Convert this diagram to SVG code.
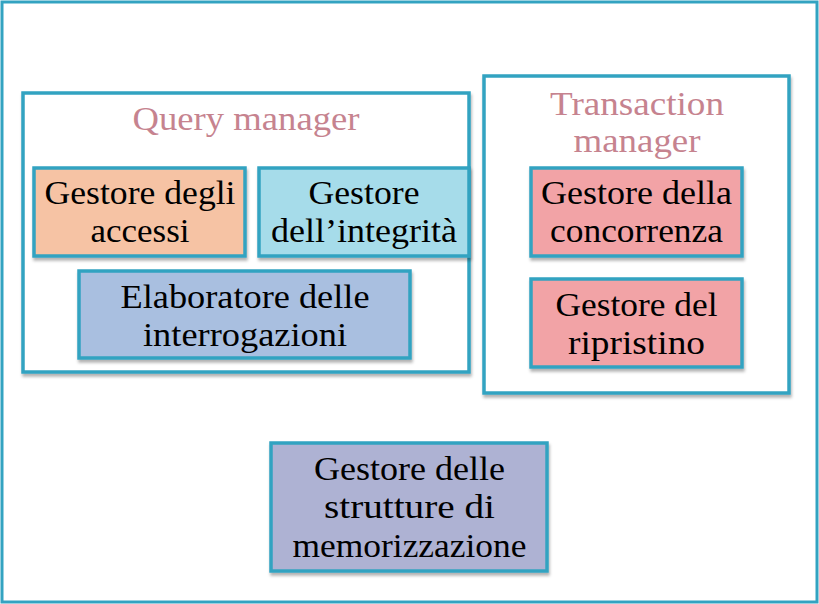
<svg xmlns="http://www.w3.org/2000/svg" width="819" height="604" viewBox="0 0 819 604">
<defs>
<style>
.frame{fill:#ffffff;stroke:#33a3c1;stroke-width:3}
.box{stroke:#33a3c1;stroke-width:3.5;filter:url(#sh)}
.t{font-family:"Liberation Serif","Times New Roman",serif;font-size:34px;fill:#000;text-anchor:middle}
.title{font-family:"Liberation Serif","Times New Roman",serif;font-size:34px;fill:#c6838f;text-anchor:middle}
</style>
<filter id="sh" x="-10%" y="-10%" width="120%" height="130%">
<feDropShadow dx="1" dy="3" stdDeviation="1.5" flood-color="#000" flood-opacity="0.3"/>
</filter>
</defs>
<rect width="819" height="604" fill="#ffffff"/>
<rect id="outer" class="frame" x="2" y="2" width="815" height="600"/>
<g id="query-manager">
<rect class="frame box" x="23" y="93" width="446" height="279"/>
<text class="title" x="246" y="130" textLength="227" lengthAdjust="spacingAndGlyphs">Query manager</text>
</g>
<g id="gestore-accessi">
<rect class="box" fill="#f6c3a4" x="34" y="168" width="211" height="88"/>
<text class="t" x="140" y="204" textLength="191" lengthAdjust="spacingAndGlyphs">Gestore degli</text>
<text class="t" x="140" y="242" textLength="99" lengthAdjust="spacingAndGlyphs">accessi</text>
</g>
<g id="gestore-integrita">
<rect class="box" fill="#a6dcea" x="259" y="168" width="210" height="88"/>
<text class="t" x="364" y="204" textLength="111" lengthAdjust="spacingAndGlyphs">Gestore</text>
<text class="t" x="364" y="242" textLength="186" lengthAdjust="spacingAndGlyphs">dell’integrità</text>
</g>
<g id="elaboratore">
<rect class="box" fill="#a9bfe0" x="79" y="271" width="331" height="87"/>
<text class="t" x="245" y="308" textLength="249" lengthAdjust="spacingAndGlyphs">Elaboratore delle</text>
<text class="t" x="245" y="346" textLength="204" lengthAdjust="spacingAndGlyphs">interrogazioni</text>
</g>
<g id="transaction-manager">
<rect class="frame box" x="484" y="76" width="305" height="317"/>
<text class="title" x="637" y="115" textLength="174" lengthAdjust="spacingAndGlyphs">Transaction</text>
<text class="title" x="637" y="152" textLength="127" lengthAdjust="spacingAndGlyphs">manager</text>
</g>
<g id="gestore-concorrenza">
<rect class="box" fill="#f2a3a6" x="531" y="168" width="211" height="88"/>
<text class="t" x="636.5" y="204" textLength="191" lengthAdjust="spacingAndGlyphs">Gestore della</text>
<text class="t" x="636.5" y="242" textLength="173" lengthAdjust="spacingAndGlyphs">concorrenza</text>
</g>
<g id="gestore-ripristino">
<rect class="box" fill="#f2a3a6" x="531" y="279" width="211" height="88"/>
<text class="t" x="636.5" y="316" textLength="162" lengthAdjust="spacingAndGlyphs">Gestore del</text>
<text class="t" x="636.5" y="354" textLength="137" lengthAdjust="spacingAndGlyphs">ripristino</text>
</g>
<g id="gestore-strutture">
<rect class="box" fill="#aeb2d3" x="271" y="443" width="276" height="128"/>
<text class="t" x="409.5" y="480" textLength="191" lengthAdjust="spacingAndGlyphs">Gestore delle</text>
<text class="t" x="409.5" y="518" textLength="171" lengthAdjust="spacingAndGlyphs">strutture di</text>
<text class="t" x="409.5" y="557" textLength="234" lengthAdjust="spacingAndGlyphs">memorizzazione</text>
</g>
<g id="connectors"></g>
</svg>
